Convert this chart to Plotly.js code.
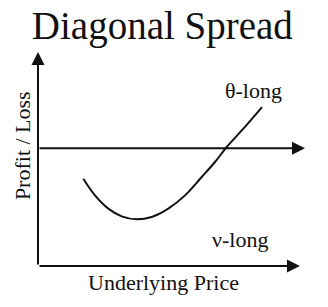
<!DOCTYPE html>
<html>
<head>
<meta charset="utf-8">
<script src="https://cdn.plot.ly/plotly-3.0.1.min.js"></script>
<style>
  html, body { margin: 0; padding: 0; background: #ffffff; }
  #chart { width: 328px; height: 307px; }
</style>
</head>
<body>
<div id="chart"></div>
<script>
// Payoff curve of the diagonal spread (underlying price vs profit/loss)
const underlyingPrice = [16.97, 21.35, 26.33, 31.35, 36.97, 42.58, 48.80, 55.06, 61.31, 66.29, 70.67, 77.53, 83.90];
const profitLoss      = [-1.42, -2.20, -2.82, -3.18, -3.32, -3.21, -2.82, -2.20, -1.34, -0.64, 0.06, 1.00, 1.92];

const chartTitle = "Diagonal Spread";
const xLabel = "Underlying Price";
const yLabel = "Profit / Loss";
const thetaLabel = "θ-long";
const vegaLabel = "ν-long";

const xRange = [0, 100];
const yRange = [-5.5, 4.5];

const serif = "Liberation Serif";
const ink = "#111111";

const trace = {
  type: "scatter",
  mode: "lines",
  x: underlyingPrice,
  y: profitLoss,
  line: { color: ink, width: 2, shape: "spline", smoothing: 1.0 },
  hoverinfo: "skip",
  showlegend: false
};

function arrow(x0, y0, x1, y1) {
  return {
    x: x1, y: y1, ax: x0, ay: y0,
    xref: "x", yref: "y", axref: "x", ayref: "y",
    text: "", showarrow: true,
    arrowhead: 2, arrowsize: 1.3, arrowwidth: 2, arrowcolor: ink,
    standoff: 0, startstandoff: 0
  };
}

function label(text, x, y, size, xref, yref, angle) {
  return {
    text: text, x: x, y: y, xref: xref, yref: yref,
    showarrow: false, xanchor: "center", yanchor: "middle",
    textangle: angle || 0,
    font: { family: serif, size: size, color: ink }
  };
}

const layout = {
  width: 328,
  height: 307,
  margin: { l: 38, r: 23, t: 52, b: 41, pad: 0 },
  paper_bgcolor: "#ffffff",
  plot_bgcolor: "#ffffff",
  font: { family: serif, color: ink },
  title: {
    text: chartTitle,
    x: 0.495, xref: "container", xanchor: "center",
    y: 0.918, yref: "container", yanchor: "middle",
    font: { family: serif, size: 39, color: ink }
  },
  xaxis: { range: xRange, visible: false, fixedrange: true },
  yaxis: { range: yRange, visible: false, fixedrange: true },
  showlegend: false,
  annotations: [
    arrow(0, yRange[0], 0, yRange[1]),
    arrow(0, yRange[0], 98.1, yRange[0]),
    arrow(0, 0, 100, 0),
    label(thetaLabel, 80.7, 2.71, 22, "x", "y"),
    label(vegaLabel, 75.7, -4.27, 22, "x", "y"),
    label(xLabel, 0.470, -0.0776, 22, "paper", "paper"),
    label(yLabel, -0.0577, 0.563, 22, "paper", "paper", -90)
  ]
};

Plotly.newPlot("chart", [trace], layout, { staticPlot: true, displayModeBar: false });
</script>
</body>
</html>
